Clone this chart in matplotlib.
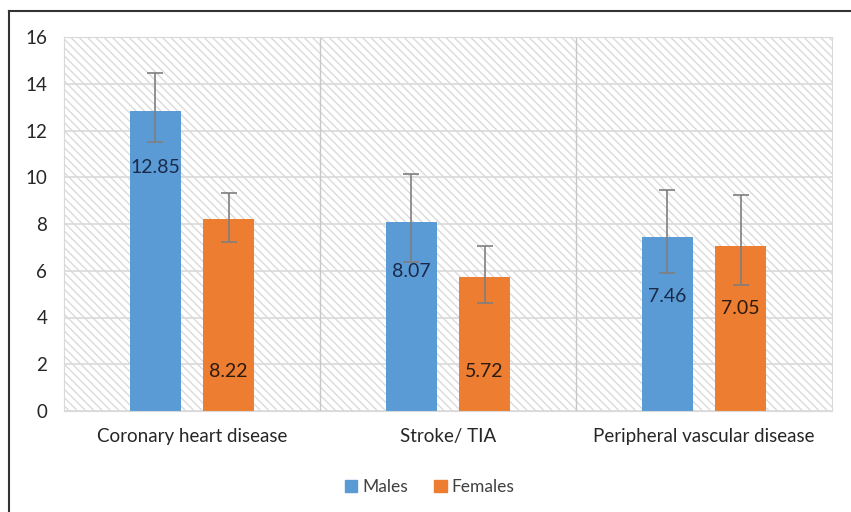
import numpy as np
import matplotlib.pyplot as plt
from matplotlib.patches import Rectangle
from matplotlib.lines import Line2D

categories = ['Coronary heart disease', 'Stroke/ TIA', 'Peripheral vascular disease']
males = [12.85, 8.07, 7.46]
females = [8.22, 5.72, 7.05]
males_lo = [11.49, 6.36, 5.89]
males_hi = [14.45, 10.15, 9.47]
females_lo = [7.22, 4.60, 5.41]
females_hi = [9.34, 7.04, 9.24]
series = ['Males', 'Females']

# where Excel put the value labels (data units)
males_label_y = [10.4, 5.97, 4.9]
females_label_y = [1.7, 1.7, 4.4]

blue = '#5B9BD5'
orange = '#ED7D31'
plt.rcParams['font.family'] = ['Lato', 'DejaVu Sans']
plt.rcParams['hatch.color'] = '#dadada'
plt.rcParams['hatch.linewidth'] = 1.0

fig = plt.figure(figsize=(8.51, 5.12), dpi=100)
ax = fig.add_axes([64/851, 1 - 411/512, (832 - 64)/851, (411 - 37)/512])

# hatched plot area
ax.add_patch(Rectangle((0, 0), 1, 1, transform=ax.transAxes, facecolor='white',
                       edgecolor='#dadada', hatch='\\\\\\\\', lw=0, zorder=0))

x = np.arange(len(categories))
w = 0.2
off = 0.143
ax.set_axisbelow(True)
ax.yaxis.grid(True, color='#d9d9d9', lw=1.2)
for b in [0.5, 1.5]:
    ax.axvline(b, color='#c8c8c8', lw=1.0, zorder=1)

ax.bar(x - off, males, w, color=blue, zorder=2)
ax.bar(x + off, females, w, color=orange, zorder=2)
m = np.array(males); f = np.array(females)
ax.errorbar(x - off, m, yerr=[m - np.array(males_lo), np.array(males_hi) - m],
            fmt='none', ecolor='#7f7f7f', elinewidth=1.2, capsize=6, capthick=1.2, zorder=3)
ax.errorbar(x + off, f, yerr=[f - np.array(females_lo), np.array(females_hi) - f],
            fmt='none', ecolor='#7f7f7f', elinewidth=1.2, capsize=6, capthick=1.2, zorder=3)

for i in range(len(categories)):
    ax.text(x[i] - off, males_label_y[i], '%.2f' % males[i], ha='center', va='center',
            fontsize=14, color='#1a2a4a', zorder=4)
    ax.text(x[i] + off, females_label_y[i], '%.2f' % females[i], ha='center', va='center',
            fontsize=14, color='#2a1a10', zorder=4)

ax.set_xlim(-0.5, 2.5)
ax.set_ylim(0, 16)
ax.set_yticks(np.arange(0, 17, 2))
ax.set_xticks(x)
ax.set_xticklabels(categories, fontsize=13.5, color='#262626')
ax.tick_params(axis='y', labelsize=13.5, colors='#262626', length=0, pad=12)
ax.tick_params(axis='x', length=0, pad=12)
for s in ax.spines.values():
    s.set_color('#d9d9d9')

handles = [Rectangle((0, 0), 1, 1, color=blue), Rectangle((0, 0), 1, 1, color=orange)]
fig.legend(handles, series, loc='center', bbox_to_anchor=(430/851, 1 - 487/512), ncol=2,
           frameon=False, fontsize=12.5, handlelength=0.7, handleheight=0.7,
           handletextpad=0.3, columnspacing=1.5, labelcolor='#404040')

# outer frame: top and left edges only
fig.add_artist(Line2D([9/851, 1], [1 - 11/512, 1 - 11/512], transform=fig.transFigure, color='#333333', lw=1.5))
fig.add_artist(Line2D([9/851, 9/851], [0, 1 - 11/512], transform=fig.transFigure, color='#333333', lw=1.5))

fig.savefig('out.png', dpi=100)
